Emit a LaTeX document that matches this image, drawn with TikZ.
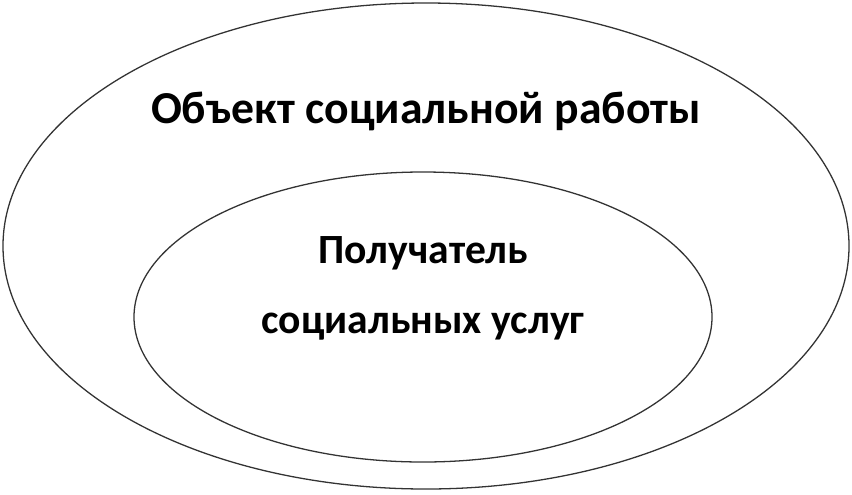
\documentclass[tikz,border=0pt]{standalone}
\usepackage{fontspec}
\setmainfont{Carlito}
\usetikzlibrary{positioning}

\begin{document}
\begin{tikzpicture}
	[%
	x=0.03cm, y=-0.03cm,%
	ring/.style ={draw=black!80, line width=1.1pt},%
	label/.style={font=\bfseries\fontsize{35.5}{42}\selectfont, anchor=base, inner sep=0pt},%
	title/.style={label, font=\bfseries\fontsize{39}{46}\selectfont},%
	]

	% frame
	\useasboundingbox (0,0) rectangle (852,494);

	% ellipses
	\draw [ring] (426,246) ellipse [x radius=423, y radius=243];
	\draw [ring] (423,317) ellipse [x radius=289, y radius=145];

	% texts
	\node (object)    at (426,123) [title] {Объект социальной работы};
	\node (recipient) at (423,263) [label] {Получатель};
	\node (services)  at (423,333) [label] {социальных услуг};

\end{tikzpicture}
\end{document}
